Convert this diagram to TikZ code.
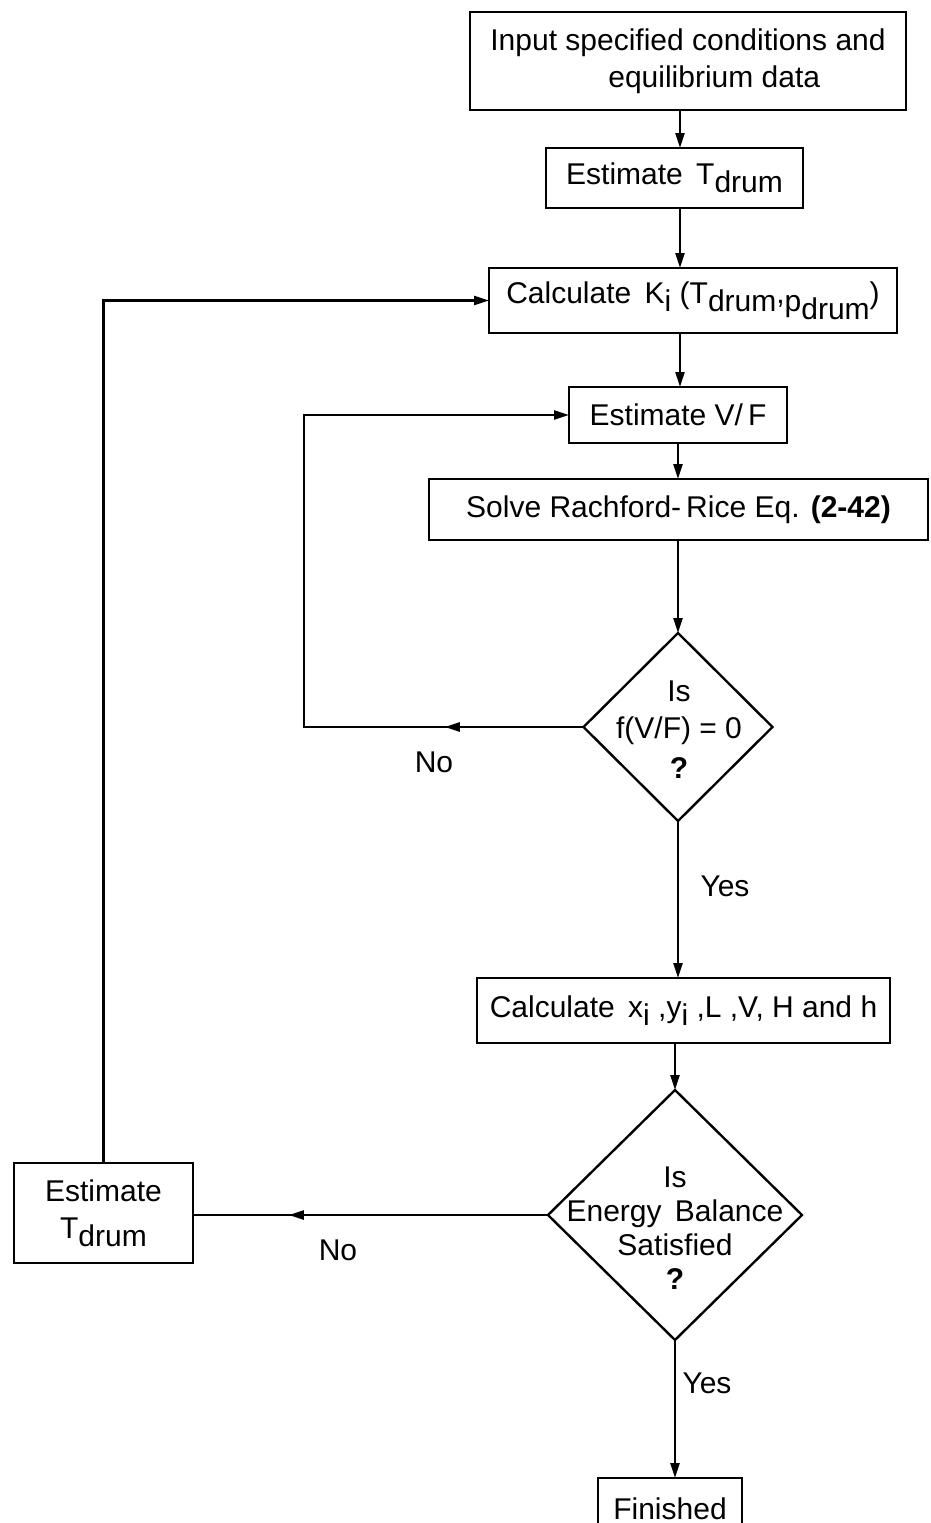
\documentclass[tikz,border=0pt]{standalone}
\usepackage{fontspec}
\setmainfont{Liberation Sans}
\usetikzlibrary{arrows.meta,shapes.geometric,decorations.markings}
\newcommand{\lowr}[1]{\raisebox{-0.5ex}{#1}}
\begin{document}
\begin{tikzpicture}[x=1pt,y=-1pt,line width=2.4pt,
  >={Triangle[length=15pt,width=9pt]},
  txt/.style={font=\fontsize{30}{37}\selectfont},
  box/.style={draw,rectangle,inner sep=0pt,outer sep=0pt,txt},
  dia/.style={draw,diamond,inner sep=0pt,outer sep=0pt},
  midarrow/.style={decoration={markings,mark=at position #1 with {\arrow{>}}},postaction={decorate}}]
\useasboundingbox (0,0) rectangle (930,1523);
% nodes
\node[box,minimum width=436pt,minimum height=98pt,align=left] (in1) at (688,61)
  {Input specified conditions and\\\hspace*{118pt}equilibrium data};
\node[box,minimum width=257pt,minimum height=60pt] (est1) at (674.5,178) {Estimate \,T\lowr{drum}};
\node[box,minimum width=408pt,minimum height=65pt] (calcK) at (693,300.5)
  {Calculate \,K\lowr{i} (T\lowr{drum},\lowr{p\lowr{drum}})};
\node[box,minimum width=218pt,minimum height=56pt] (estVF) at (678,415) {Estimate V/\,F};
\node[box,minimum width=499pt,minimum height=61pt] (solve) at (678.5,509.5)
  {Solve Rachford-\,Rice Eq. \textbf{(2-42)}};
\node[dia,minimum width=189pt,minimum height=188pt] (d1) at (678,727) {};
\node[txt,align=center] (d1t) at (679,730) {Is\\f(V/F) = 0\\[3pt]\textbf{?}};
\node[box,minimum width=413pt,minimum height=65pt] (calcX) at (683.5,1010.5)
  {Calculate \,x\lowr{i} ,y\lowr{i} ,L ,V, H and h};
\node[dia,minimum width=254pt,minimum height=250pt] (d2) at (675,1215) {};
\node[txt,align=center,font=\fontsize{30}{34}\selectfont] (d2t) at (675,1228) {Is\\Energy \,Balance\\Satisfied\\\textbf{?}};
\node[box,minimum width=179pt,minimum height=100pt,align=center] (estT2) at (103.5,1213)
  {Estimate\\T\lowr{drum}};
\node[box,minimum width=144pt,minimum height=62pt] (fin) at (670,1509) {Finished};
% labels
\node[txt] (no1) at (434,762) {No};
\node[txt] (no2) at (338,1250) {No};
\node[txt] (yes1) at (725,886) {Yes};
\node[txt] (yes2) at (707,1383) {Yes};
% connectors
\coordinate (ax) at (680,0);
\coordinate (l1) at (304,0);
\draw[->] (in1.south -| ax) -- (est1.north -| ax);
\draw[->] (est1.south -| ax) -- (calcK.north -| ax);
\draw[->] (calcK.south -| ax) -- (estVF.north -| ax);
\draw[->] (estVF.south -| d1.north) -- (solve.north -| d1.north);
\draw[->] (solve.south -| d1.north) -- (d1.north);
\draw[->] (d1.south) -- (calcX.north -| d1.south);
\draw[->] (calcX.south -| d2.north) -- (d2.north);
\draw[->] (d2.south) -- (fin.north -| d2.south);
\draw[->,midarrow=0.162] (d1.west) -- (d1.west -| l1) |- (estVF.west);
\draw[midarrow=0.73] (d2.west) -- (d2.west -| estT2.east);
\draw[->] (estT2.north) |- (calcK.west);
\end{tikzpicture}
\end{document}
